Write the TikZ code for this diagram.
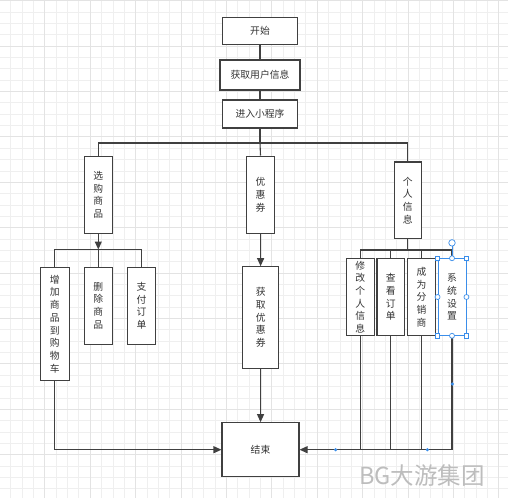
\documentclass[tikz,border=0pt]{standalone}
\usepackage{fontspec}
\setmainfont{Noto Sans CJK SC}
\usetikzlibrary{arrows.meta}
\definecolor{ln}{HTML}{404040}
\definecolor{tx}{HTML}{333333}
\definecolor{gridc}{HTML}{EFEFEF}
\definecolor{gridm}{HTML}{E3E3E3}
\definecolor{sel}{HTML}{3B8EEA}
\definecolor{wm}{HTML}{BDBDBD}
\begin{document}
\begin{tikzpicture}[x=1pt,y=-1pt,
 box/.style={draw=ln,line width=1.1pt,fill=white,inner sep=0pt,align=center,
   font=\fontsize{9.8}{12.7}\selectfont,text=tx},
 conn/.style={draw=ln,line width=1.1pt},
 arr/.style={conn,-{Triangle[length=8pt,width=7pt]}},
 hsq/.style={draw=sel,fill=white,line width=0.7pt,minimum size=4.5pt,inner sep=0pt,rectangle},
 hci/.style={draw=sel,fill=white,line width=0.7pt,minimum size=5pt,inner sep=0pt,circle},
 bdot/.style={fill=sel,circle,minimum size=3.5pt,inner sep=0pt},
]
\useasboundingbox (0,0) rectangle (508,498);
\fill[white] (0,0) rectangle (508,498);
\foreach \i in {0,...,45} {
  \draw[gridc,line width=0.8pt] ({-0.6+11.35*\i},0) -- ({-0.6+11.35*\i},498);
  \draw[gridc,line width=0.8pt] (0,{0.65+11.35*\i}) -- (508,{0.65+11.35*\i});
}
\foreach \i in {0,...,11} {
  \draw[gridm,line width=0.8pt] ({-0.6+45.4*\i},0) -- ({-0.6+45.4*\i},498);
  \draw[gridm,line width=0.8pt] (0,{0.65+45.4*\i}) -- (508,{0.65+45.4*\i});
}

% nodes
\node[box,minimum width=74.3pt,minimum height=27.7pt] (start) at (260,31) {开始};
\node[box,minimum width=80pt,minimum height=30pt] (info) at (260,75) {获取用户信息};
\node[box,minimum width=74.3pt,minimum height=28pt] (enter) at (260,114) {进入小程序};

\node[box,minimum width=28pt,minimum height=77.3pt] (shop) at (98.3,194.7) {选\\购\\商\\品};
\node[box,minimum width=27.6pt,minimum height=77.3pt] (coupon) at (260.5,194.7) {优\\惠\\券};
\node[box,minimum width=27.3pt,minimum height=76.7pt] (personal) at (407.7,200.3) {个\\人\\信\\息};

\node[box,minimum width=29.3pt,minimum height=113.4pt] (add) at (54.7,324) {增\\加\\商\\品\\到\\购\\物\\车};
\node[box,minimum width=28pt,minimum height=76.7pt] (del) at (98.3,305.7) {删\\除\\商\\品};
\node[box,minimum width=27.6pt,minimum height=76.7pt] (pay) at (141.5,305.7) {支\\付\\订\\单};

\node[box,minimum width=36pt,minimum height=101.6pt] (getc) at (260.7,317.5) {获\\取\\优\\惠\\券};

\node[box,minimum width=28.3pt,minimum height=76.6pt] (modify) at (360.2,297) {修\\改\\个\\人\\信\\息};
\node[box,minimum width=27.7pt,minimum height=76.6pt] (view) at (390.8,297) {查\\看\\订\\单};
\node[box,minimum width=27.6pt,minimum height=76.6pt] (dist) at (421.5,297) {成\\为\\分\\销\\商};
\node[box,draw=sel,line width=0.9pt,minimum width=28pt,minimum height=76.6pt] (sys) at (452,297) {系\\统\\设\\置};

\node[box,minimum width=77pt,minimum height=54pt] (end) at (260.5,449.7) {结束};

% connectors
\draw[conn] (start) -- (info);
\draw[conn] (info) -- (enter);
\coordinate (hb) at (260,143);
\draw[conn] (enter) -- (hb);
\draw[conn] (shop.north) |- (hb) -| (personal.north);
\draw[conn] (hb) -- (coupon.north);

\coordinate (sb) at (98.3,249.5);
\draw[arr] (shop) -- (sb);
\draw[conn] (add.north) |- (sb) -| (pay.north);
\draw[conn] (sb) -- (del.north);

\draw[arr] (coupon) -- (getc);
\draw[arr] (getc) -- (end);
\draw[arr] (add.south) |- (end.west);

\coordinate (pb) at (407.7,250);
\draw[conn] (personal) -- (pb);
\draw[conn] (modify.north) |- (pb) -| (sys.north);
\draw[conn] (pb) -| (view.north);
\draw[conn] (pb) -| (dist.north);

\draw[arr] (sys.south) |- (end.east);
\draw[conn] (modify.south) -- (modify.south |- end.east);
\draw[conn] (view.south) -- (view.south |- end.east);
\draw[conn] (dist.south) -- (dist.south |- end.east);

% selection handles
\draw[sel,line width=0.8pt] (sys.north) -- ++(0,-15.4) coordinate (rot);
\node[hci,minimum size=6.5pt] at (rot) {};
\node[hsq] at (sys.north west) {};
\node[hsq] at (sys.north east) {};
\node[hsq] at (sys.south west) {};
\node[hsq] at (sys.south east) {};
\node[hci] at (sys.north) {};
\node[hci] at (sys.south) {};
\node[hci] at (sys.west) {};
\node[hci] at (sys.east) {};
\node[bdot] at (335.7,449.7) {};
\node[bdot] at (427.3,449.7) {};
\node[bdot] at (452.3,384) {};

% watermark
\node[anchor=west,inner sep=0pt,text=wm,font=\fontsize{23.5}{26}\selectfont] (wm) at (359,476) {BG大游集团};
\end{tikzpicture}
\end{document}
